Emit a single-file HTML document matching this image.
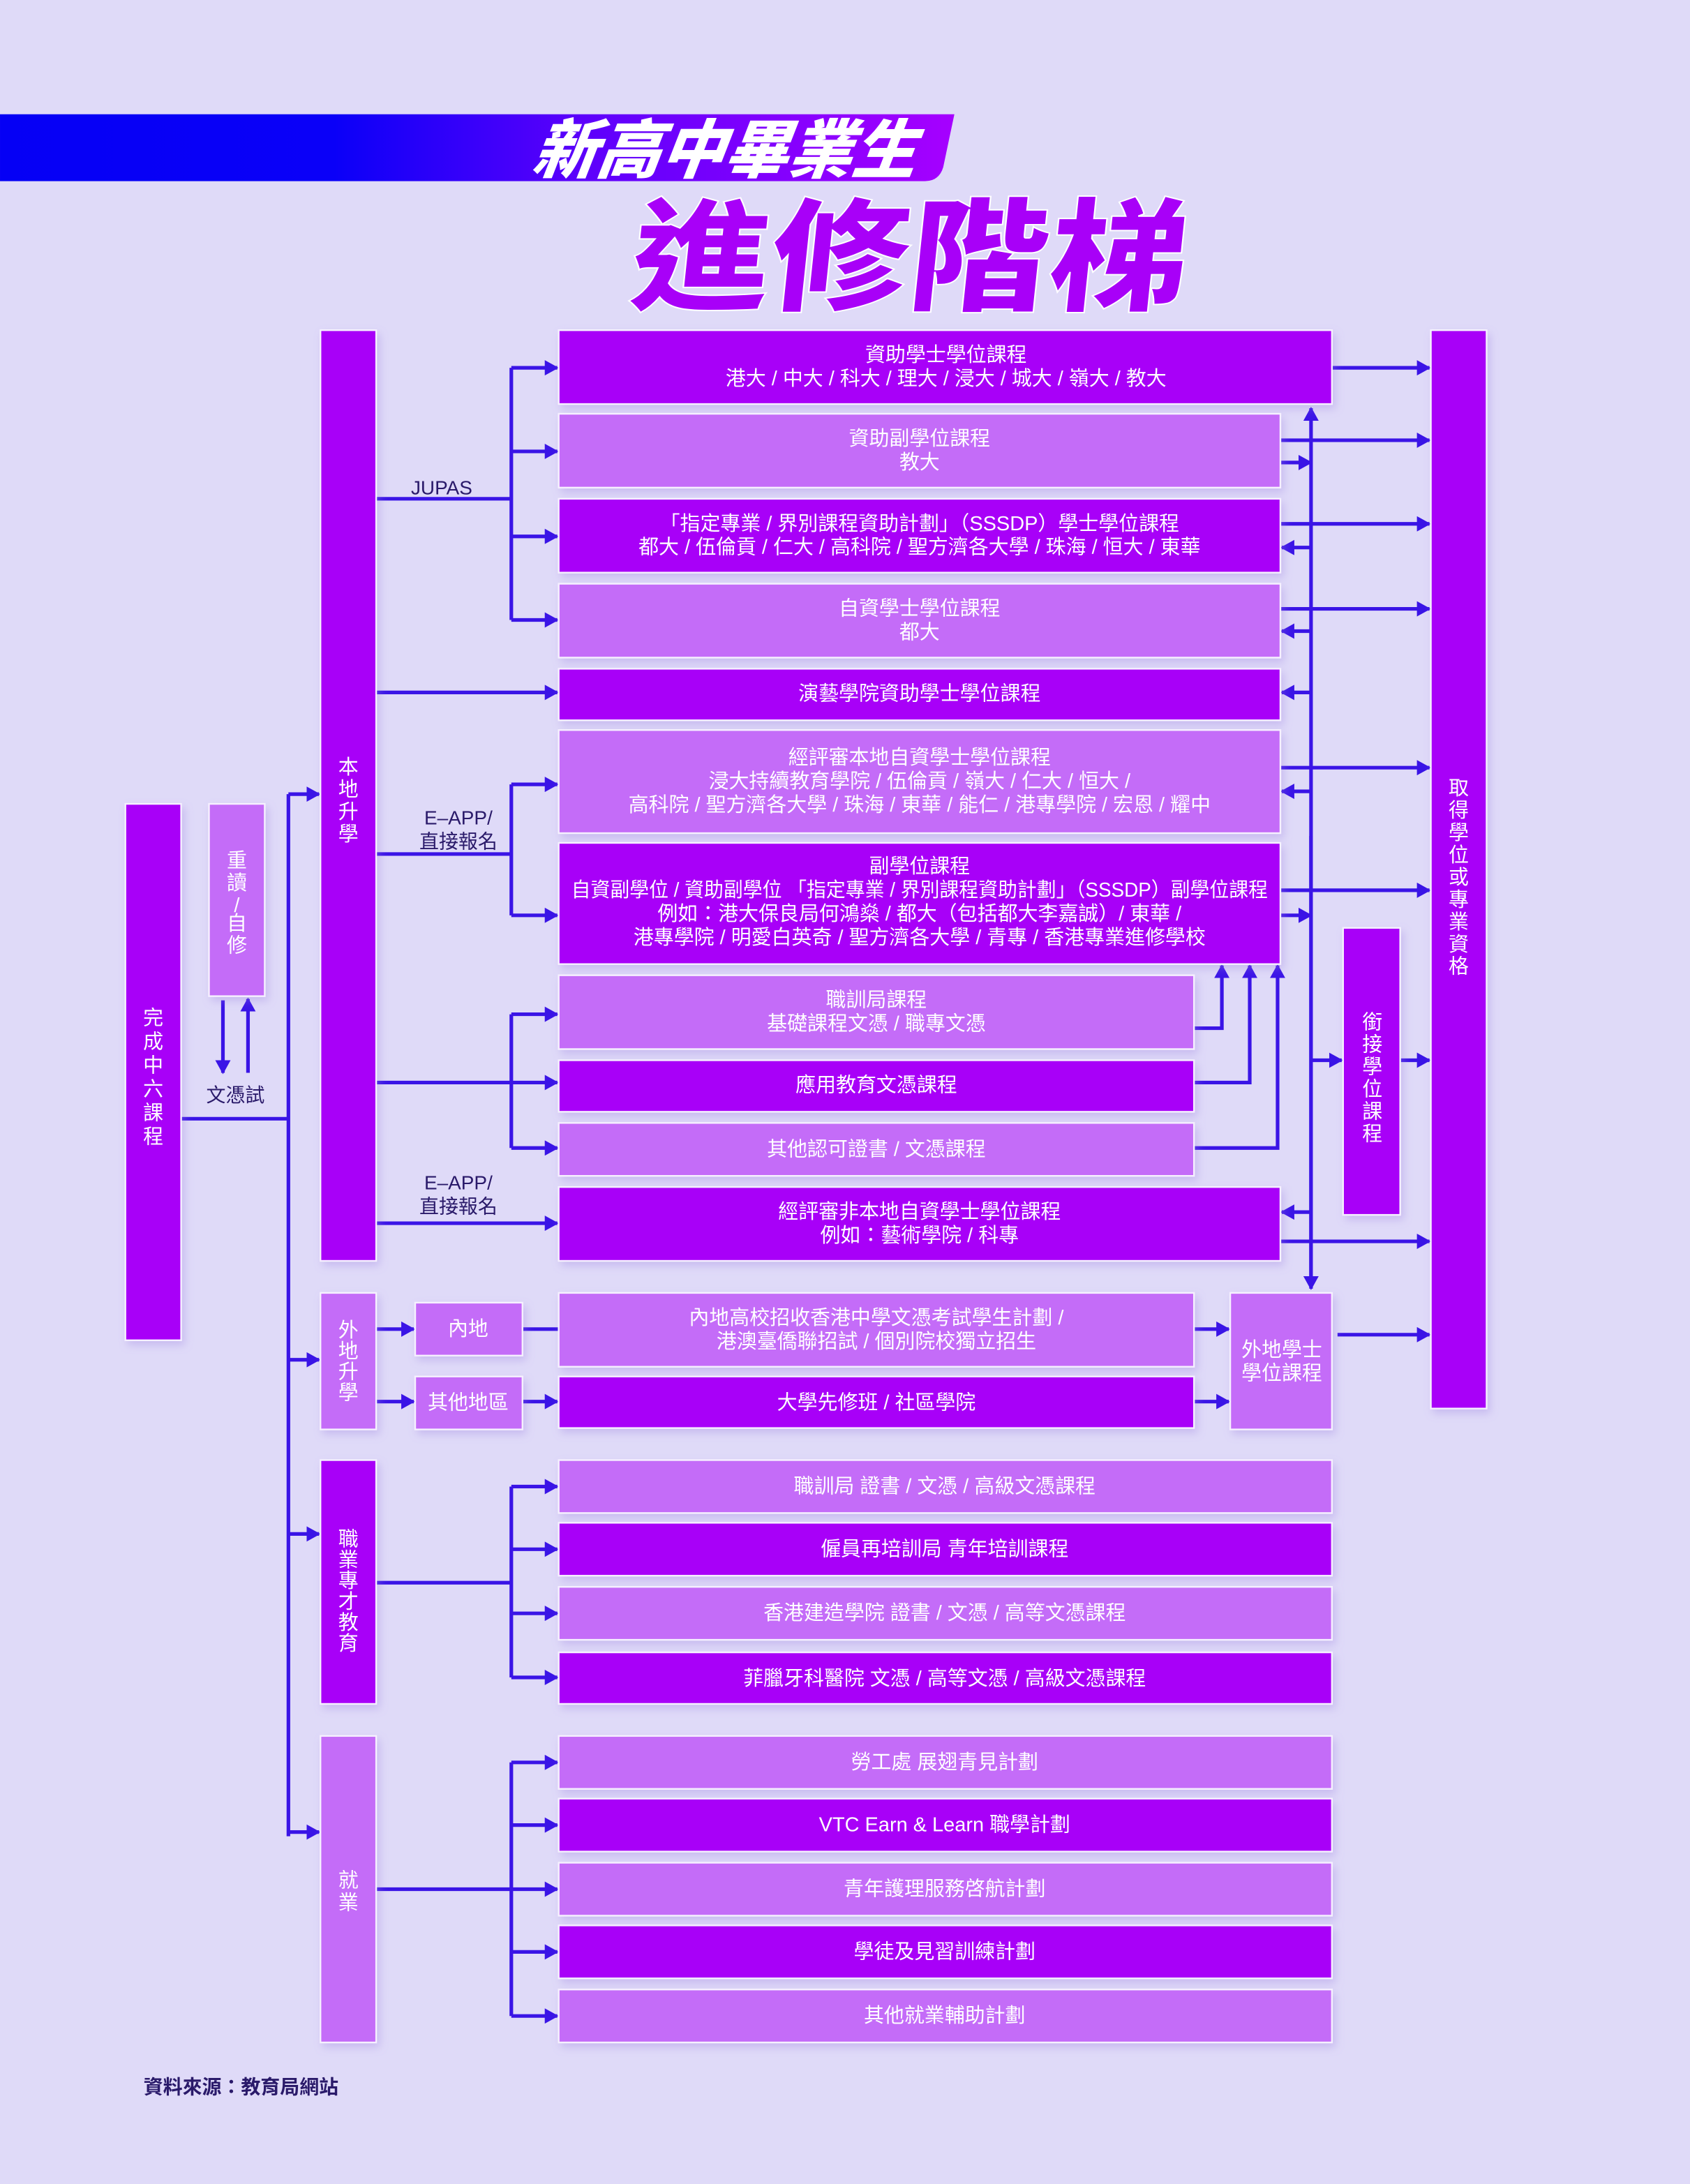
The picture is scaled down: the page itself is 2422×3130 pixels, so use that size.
<!DOCTYPE html>
<html><head><meta charset="utf-8"><style>
html,body{margin:0;padding:0;background:#dfdaf8;}
svg{display:block}
text{font-family:"Liberation Sans","Noto Sans CJK TC",sans-serif;}
</style></head><body>
<svg width="2422" height="3130" viewBox="0 0 1213 1567.6" xmlns="http://www.w3.org/2000/svg">
<defs>
<linearGradient id="bar" x1="0" x2="1" y1="0" y2="0">
<stop offset="0" stop-color="#0500f5"/><stop offset="0.35" stop-color="#0a00f8"/><stop offset="0.6" stop-color="#5a00fb"/><stop offset="1" stop-color="#a600ff"/></linearGradient>
<marker id="a" markerUnits="userSpaceOnUse" markerWidth="10" markerHeight="11" refX="9" refY="5.5" orient="auto"><path d="M0,0 L10,5.5 L0,11 z" fill="#3a14e6"/></marker>
<filter id="sh" x="-10%" y="-10%" width="130%" height="130%"><feDropShadow dx="2" dy="3" stdDeviation="3" flood-color="#9a80e0" flood-opacity="0.35"/></filter>
</defs>
<rect width="1213" height="1568" fill="#dfdaf8"/>
<path d="M0,82 L685,82 L677,120 Q674,130 664,130 L0,130 Z" fill="url(#bar)"/>
<text x="520" y="124" text-anchor="middle" font-size="46" font-weight="900" fill="#fff" font-style="italic" textLength="275" lengthAdjust="spacingAndGlyphs" transform="skewX(-8) translate(16,0)">新高中畢業生</text>
<text x="650" y="216" text-anchor="middle" font-size="88" font-weight="900" fill="#a800f8" stroke="#fff" stroke-width="1" textLength="400" lengthAdjust="spacingAndGlyphs" transform="skewX(-6) translate(23,0)">進修階梯</text>

<g fill="none" stroke="#3a14e6" stroke-width="2.6">
<path d="M130,803 H207 M207,570 V1318"/>
<path d="M207,570 H229" marker-end="url(#a)"/>
<path d="M207,976 H229" marker-end="url(#a)"/>
<path d="M207,1101 H229" marker-end="url(#a)"/>
<path d="M207,1315 H229" marker-end="url(#a)"/>
<path d="M160,718 V770" marker-end="url(#a)"/>
<path d="M178,770 V717" marker-end="url(#a)"/>
<path d="M270,358 H367 M367,264 V445"/>
<path d="M367,264 H400" marker-end="url(#a)"/>
<path d="M367,324 H400" marker-end="url(#a)"/>
<path d="M367,385 H400" marker-end="url(#a)"/>
<path d="M367,445 H400" marker-end="url(#a)"/>
<path d="M270,497 H400" marker-end="url(#a)"/>
<path d="M270,613 H367 M367,563 V657"/>
<path d="M367,563 H400" marker-end="url(#a)"/>
<path d="M367,657 H400" marker-end="url(#a)"/>
<path d="M270,777 H367 M367,728 V824"/>
<path d="M367,728 H400" marker-end="url(#a)"/>
<path d="M367,777 H400" marker-end="url(#a)"/>
<path d="M367,824 H400" marker-end="url(#a)"/>
<path d="M270,878 H400" marker-end="url(#a)"/>
<path d="M857,738 H877 V693" marker-end="url(#a)"/>
<path d="M857,777 H897 V693" marker-end="url(#a)"/>
<path d="M857,824 H917 V693" marker-end="url(#a)"/>
<path d="M941,922 V293" marker-end="url(#a)"/>
<path d="M941,600 V925" marker-end="url(#a)"/>
<path d="M919,332 H941" marker-end="url(#a)"/>
<path d="M919,657 H941" marker-end="url(#a)"/>
<path d="M941,393 H920" marker-end="url(#a)"/>
<path d="M941,453 H920" marker-end="url(#a)"/>
<path d="M941,497 H920" marker-end="url(#a)"/>
<path d="M941,568 H920" marker-end="url(#a)"/>
<path d="M941,870 H920" marker-end="url(#a)"/>
<path d="M941,761 H963" marker-end="url(#a)"/>
<path d="M956,264 H1026" marker-end="url(#a)"/>
<path d="M919,316 H1026" marker-end="url(#a)"/>
<path d="M919,376 H1026" marker-end="url(#a)"/>
<path d="M919,437 H1026" marker-end="url(#a)"/>
<path d="M919,551 H1026" marker-end="url(#a)"/>
<path d="M919,639 H1026" marker-end="url(#a)"/>
<path d="M919,891 H1026" marker-end="url(#a)"/>
<path d="M1005,761 H1026" marker-end="url(#a)"/>
<path d="M960,958 H1026" marker-end="url(#a)"/>
<path d="M270,954 H297" marker-end="url(#a)"/>
<path d="M270,1006 H297" marker-end="url(#a)"/>
<path d="M375,954 H401"/>
<path d="M375,1006 H400" marker-end="url(#a)"/>
<path d="M857,954 H882" marker-end="url(#a)"/>
<path d="M857,1006 H882" marker-end="url(#a)"/>
<path d="M270,1136 H367 M367,1067 V1204"/>
<path d="M367,1067 H400" marker-end="url(#a)"/>
<path d="M367,1112 H400" marker-end="url(#a)"/>
<path d="M367,1158 H400" marker-end="url(#a)"/>
<path d="M367,1204 H400" marker-end="url(#a)"/>
<path d="M270,1356 H367 M367,1265 V1447"/>
<path d="M367,1265 H400" marker-end="url(#a)"/>
<path d="M367,1310 H400" marker-end="url(#a)"/>
<path d="M367,1356 H400" marker-end="url(#a)"/>
<path d="M367,1401 H400" marker-end="url(#a)"/>
<path d="M367,1447 H400" marker-end="url(#a)"/>
</g>

<g stroke="#f6f0ff" stroke-width="1.2" filter="url(#sh)">
<rect x="90" y="577" width="40" height="385" fill="#a800f8"/>
<rect x="150" y="577" width="40" height="138" fill="#c46cf8"/>
<rect x="230" y="237" width="40" height="668" fill="#a800f8"/>
<rect x="230" y="928" width="40" height="98" fill="#c46cf8"/>
<rect x="230" y="1048" width="40" height="175" fill="#a800f8"/>
<rect x="230" y="1246" width="40" height="220" fill="#c46cf8"/>
<rect x="401" y="237" width="555" height="53" fill="#a800f8"/>
<rect x="401" y="297" width="518" height="53" fill="#c46cf8"/>
<rect x="401" y="358" width="518" height="53" fill="#a800f8"/>
<rect x="401" y="419" width="518" height="53" fill="#c46cf8"/>
<rect x="401" y="480" width="518" height="37" fill="#a800f8"/>
<rect x="401" y="524" width="518" height="74" fill="#c46cf8"/>
<rect x="401" y="605" width="518" height="87" fill="#a800f8"/>
<rect x="401" y="700" width="456" height="53" fill="#c46cf8"/>
<rect x="401" y="761" width="456" height="37" fill="#a800f8"/>
<rect x="401" y="806" width="456" height="38" fill="#c46cf8"/>
<rect x="401" y="852" width="518" height="53" fill="#a800f8"/>
<rect x="401" y="928" width="456" height="53" fill="#c46cf8"/>
<rect x="401" y="988" width="456" height="37" fill="#a800f8"/>
<rect x="298" y="935" width="77" height="38" fill="#c46cf8"/>
<rect x="298" y="988" width="77" height="38" fill="#c46cf8"/>
<rect x="883" y="928" width="73" height="98" fill="#c46cf8"/>
<rect x="964" y="666" width="41" height="206" fill="#a800f8"/>
<rect x="1027" y="237" width="40" height="774" fill="#a800f8"/>
<rect x="401" y="1048" width="555" height="38" fill="#c46cf8"/>
<rect x="401" y="1093" width="555" height="38" fill="#a800f8"/>
<rect x="401" y="1139" width="555" height="38" fill="#c46cf8"/>
<rect x="401" y="1186" width="555" height="37" fill="#a800f8"/>
<rect x="401" y="1246" width="555" height="38" fill="#c46cf8"/>
<rect x="401" y="1291" width="555" height="38" fill="#a800f8"/>
<rect x="401" y="1337" width="555" height="38" fill="#c46cf8"/>
<rect x="401" y="1382" width="555" height="38" fill="#a800f8"/>
<rect x="401" y="1428" width="555" height="38" fill="#c46cf8"/>
</g>

<g fill="#fff" font-size="14.5" text-anchor="middle" dominant-baseline="central">
<text x="679" y="255">資助學士學位課程</text>
<text x="679" y="272">港大 / 中大 / 科大 / 理大 / 浸大 / 城大 / 嶺大 / 教大</text>
<text x="660" y="315">資助副學位課程</text>
<text x="660" y="332">教大</text>
<text x="660" y="376">「指定專業 / 界別課程資助計劃」（SSSDP）學士學位課程</text>
<text x="660" y="393">都大 / 伍倫貢 / 仁大 / 高科院 / 聖方濟各大學 / 珠海 / 恒大 / 東華</text>
<text x="660" y="437">自資學士學位課程</text>
<text x="660" y="454">都大</text>
<text x="660" y="498">演藝學院資助學士學位課程</text>
<text x="660" y="544">經評審本地自資學士學位課程</text>
<text x="660" y="561">浸大持續教育學院 / 伍倫貢 / 嶺大 / 仁大 / 恒大 /</text>
<text x="660" y="578">高科院 / 聖方濟各大學 / 珠海 / 東華 / 能仁 / 港專學院 / 宏恩 / 耀中</text>
<text x="660" y="622">副學位課程</text>
<text x="660" y="639" textLength="500" lengthAdjust="spacingAndGlyphs">自資副學位 / 資助副學位 「指定專業 / 界別課程資助計劃」（SSSDP）副學位課程</text>
<text x="660" y="656">例如：港大保良局何鴻燊 / 都大（包括都大李嘉誠）/ 東華 /</text>
<text x="660" y="673">港專學院 / 明愛白英奇 / 聖方濟各大學 / 青專 / 香港專業進修學校</text>
<text x="629" y="718">職訓局課程</text>
<text x="629" y="735">基礎課程文憑 / 職專文憑</text>
<text x="629" y="779">應用教育文憑課程</text>
<text x="629" y="825">其他認可證書 / 文憑課程</text>
<text x="660" y="870">經評審非本地自資學士學位課程</text>
<text x="660" y="887">例如：藝術學院 / 科專</text>
<text x="629" y="946">內地高校招收香港中學文憑考試學生計劃 /</text>
<text x="629" y="963">港澳臺僑聯招試 / 個別院校獨立招生</text>
<text x="629" y="1007">大學先修班 / 社區學院</text>
<text x="336" y="954">內地</text>
<text x="336" y="1007">其他地區</text>
<text x="920" y="969">外地學士</text>
<text x="920" y="986">學位課程</text>
<text x="678" y="1067">職訓局 證書 / 文憑 / 高級文憑課程</text>
<text x="678" y="1112">僱員再培訓局 青年培訓課程</text>
<text x="678" y="1158">香港建造學院 證書 / 文憑 / 高等文憑課程</text>
<text x="678" y="1205">菲臘牙科醫院 文憑 / 高等文憑 /  高級文憑課程</text>
<text x="678" y="1265">勞工處 展翅青見計劃</text>
<text x="678" y="1310">VTC Earn &amp; Learn 職學計劃</text>
<text x="678" y="1356">青年護理服務啓航計劃</text>
<text x="678" y="1401">學徒及見習訓練計劃</text>
<text x="678" y="1447">其他就業輔助計劃</text>
<text x="110" y="731">完</text><text x="110" y="748">成</text><text x="110" y="765">中</text><text x="110" y="782">六</text><text x="110" y="799">課</text><text x="110" y="816">程</text>
<text x="170" y="618">重</text><text x="170" y="634">讀</text><text x="170" y="650">/</text><text x="170" y="663">自</text><text x="170" y="679">修</text>
<text x="250" y="551">本</text><text x="250" y="567">地</text><text x="250" y="583">升</text><text x="250" y="599">學</text>
<text x="250" y="955">外</text><text x="250" y="970">地</text><text x="250" y="985">升</text><text x="250" y="1000">學</text>
<text x="250" y="1105">職</text><text x="250" y="1120">業</text><text x="250" y="1135">專</text><text x="250" y="1150">才</text><text x="250" y="1165">教</text><text x="250" y="1180">育</text>
<text x="250" y="1350">就</text><text x="250" y="1366">業</text>
<text x="985" y="734">銜</text><text x="985" y="750">接</text><text x="985" y="766">學</text><text x="985" y="782">位</text><text x="985" y="798">課</text><text x="985" y="814">程</text>
<text x="1047" y="566">取</text><text x="1047" y="582">得</text><text x="1047" y="598">學</text><text x="1047" y="614">位</text><text x="1047" y="630">或</text><text x="1047" y="646">專</text><text x="1047" y="662">業</text><text x="1047" y="678">資</text><text x="1047" y="694">格</text>
</g>
<g fill="#2a1a6a" font-size="14" text-anchor="middle" dominant-baseline="central">
<text x="317" y="350">JUPAS</text>
<text x="329" y="587">E–APP/</text>
<text x="329" y="604">直接報名</text>
<text x="329" y="849">E–APP/</text>
<text x="329" y="866">直接報名</text>
<text x="169" y="786">文憑試</text>
<text x="173" y="1498" font-weight="bold">資料來源：教育局網站</text>
</g>
</svg>
</body></html>
